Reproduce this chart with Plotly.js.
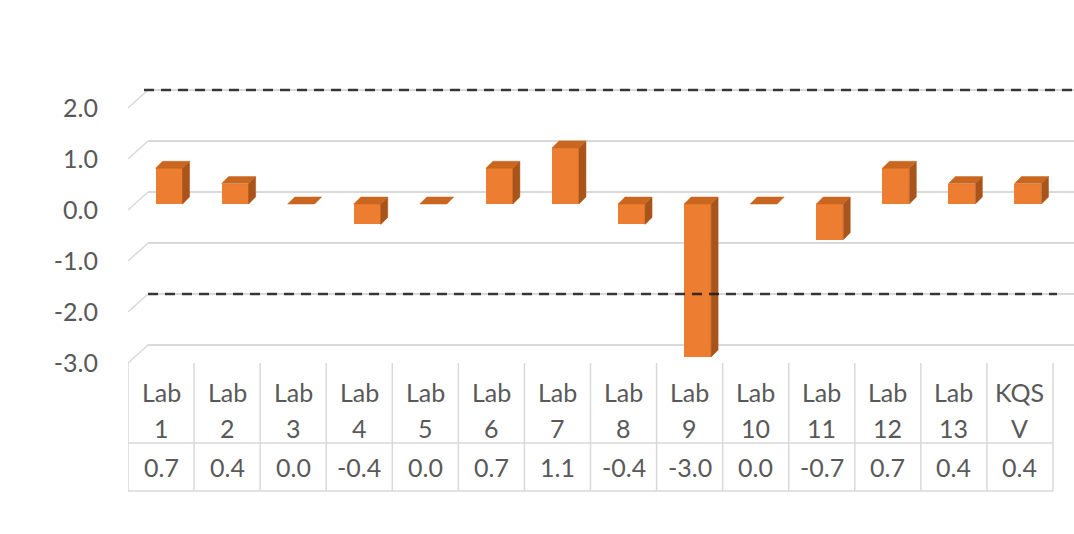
<!DOCTYPE html>
<html>
<head>
<meta charset="utf-8">
<script src="https://cdn.plot.ly/plotly-3.0.1.min.js"></script>
<style>html,body{margin:0;padding:0;background:#fff;}#chart{width:1074px;height:534px;}</style>
</head>
<body>
<div id="chart"></div>
<script>
// ---- data ----
const categories = ["Lab<br>1","Lab<br>2","Lab<br>3","Lab<br>4","Lab<br>5","Lab<br>6","Lab<br>7",
  "Lab<br>8","Lab<br>9","Lab<br>10","Lab<br>11","Lab<br>12","Lab<br>13","KQS<br>V"];
const values = [0.7, 0.4, 0.0, -0.4, 0.0, 0.7, 1.1, -0.4, -3.0, 0.0, -0.7, 0.7, 0.4, 0.4];
const yTicks = [2, 1, 0, -1, -2, -3];
const limits = [2, -2];

// ---- geometry (pixel-based layout helpers) ----
const W = 1074, H = 534;
const ML = 128, MR = 0, MT = 40, MB = 34;
const PXX = 925 / 14;      // pixels per column
const PXY = 51;            // pixels per value unit
const ZERO_PX = 204;       // pixel row of 0 on bar front plane
const px2x = p => (p - ML) / PXX - 0.5;
const px2y = p => (ZERO_PX - p) / PXY;
const dxu = p => p / PXX, dyu = p => p / PXY;

const xRange = [-0.5, px2x(W - MR)];
const yRange = [px2y(H - MB), px2y(MT)];

const barOff = dxu(8), barW = dxu(27), depX = dxu(7), depY = dyu(7);
const backDY = dyu(12), frontDY = -dyu(6);
const backX = px2x(148);

const idx = values.map((v, i) => i);
const cx = idx.map(i => i + barOff);

// side and top faces
const sideX = [], sideY = [], topX = [], topY = [];
values.forEach((v, i) => {
  const x0 = cx[i] - barW / 2, x1 = cx[i] + barW / 2;
  const t = Math.max(v, 0), b = Math.min(v, 0);
  topX.push(x0, x1, x1 + depX, x0 + depX, x0, null);
  topY.push(t, t, t + depY, t + depY, t, null);
  if (v !== 0) {
    sideX.push(x1, x1, x1 + depX, x1 + depX, x1, null);
    sideY.push(b, t, t + depY, b + depY, b, null);
  }
});

const traces = [
  {type: 'bar', x: cx, y: values, width: barW, marker: {color: '#ED7D31', line: {width: 0}},
   hoverinfo: 'skip', showlegend: false},
  {type: 'scatter', mode: 'lines', x: sideX, y: sideY, fill: 'toself', fillcolor: '#A8541A',
   line: {color: '#A8541A', width: 0.5}, hoverinfo: 'skip', showlegend: false},
  {type: 'scatter', mode: 'lines', x: topX, y: topY, fill: 'toself', fillcolor: '#C9661F',
   line: {color: '#C9661F', width: 0.5}, hoverinfo: 'skip', showlegend: false}
];

const shapes = [];
const grid = '#D9D9D9';
yTicks.forEach(v => {
  // diagonal from front plane to back wall
  shapes.push({type: 'line', layer: 'below', xref: 'x', yref: 'y',
    x0: -0.5, y0: v + frontDY, x1: backX, y1: v + backDY, line: {color: grid, width: 1.5}});
  shapes.push({type: 'line', layer: 'below', xref: 'x', yref: 'y',
    x0: backX, y0: v + backDY, x1: xRange[1], y1: v + backDY, line: {color: grid, width: 1.8}});
});
// limit lines
limits.forEach((v, k) => {
  shapes.push({type: 'line', layer: 'above', xref: 'x', yref: 'y',
    x0: backX - (k === 0 ? dxu(4) : 0), y0: v + backDY,
    x1: k === 0 ? xRange[1] : px2x(1057), y1: v + backDY,
    line: {color: 'rgba(25,25,25,0.85)', width: 2.5, dash: '10px,7px'}});
});
// data table lines
const tTop = yTicks[yTicks.length - 1] + frontDY;
const tMid = px2y(443), tBot = px2y(491);
for (let k = 0; k <= categories.length; k++) {
  shapes.push({type: 'line', layer: 'below', xref: 'x', yref: 'y',
    x0: k - 0.5, y0: tTop, x1: k - 0.5, y1: tBot, line: {color: grid, width: 1.5}});
}
[tMid, tBot].forEach(y => shapes.push({type: 'line', layer: 'below', xref: 'x', yref: 'y',
  x0: -0.5, y0: y, x1: categories.length - 0.5, y1: y, line: {color: grid, width: 1.5}}));

const txtFont = {family: 'Lato, "Open Sans", sans-serif', size: 25, color: '#595959'};
const annotations = [];
const rowY = [px2y(392), px2y(428)], valY = px2y(467);
categories.forEach((c, i) => {
  c.split('<br>').forEach((line, r) => {
    annotations.push({xref: 'x', yref: 'y', x: i, y: rowY[r], text: line, showarrow: false,
      font: txtFont, xanchor: 'center', yanchor: 'middle'});
  });
  annotations.push({xref: 'x', yref: 'y', x: i, y: valY, text: values[i].toFixed(1), showarrow: false,
    font: txtFont, xanchor: 'center', yanchor: 'middle'});
});

const layout = {
  width: W, height: H,
  margin: {l: ML, r: MR, t: MT, b: MB, pad: 0},
  paper_bgcolor: '#FFFFFF', plot_bgcolor: '#FFFFFF',
  showlegend: false,
  bargap: 0,
  xaxis: {range: xRange, visible: false, fixedrange: true},
  yaxis: {range: yRange, showgrid: false, zeroline: false, showline: false,
    tickmode: 'array', tickvals: yTicks.map(v => v + frontDY), ticktext: yTicks.map(v => v.toFixed(1)),
    ticks: 'outside', ticklen: 24, tickcolor: 'rgba(0,0,0,0)', tickfont: txtFont, fixedrange: true},
  shapes: shapes,
  annotations: annotations
};

Plotly.newPlot('chart', traces, layout, {displayModeBar: false, staticPlot: true});
</script>
</body>
</html>
